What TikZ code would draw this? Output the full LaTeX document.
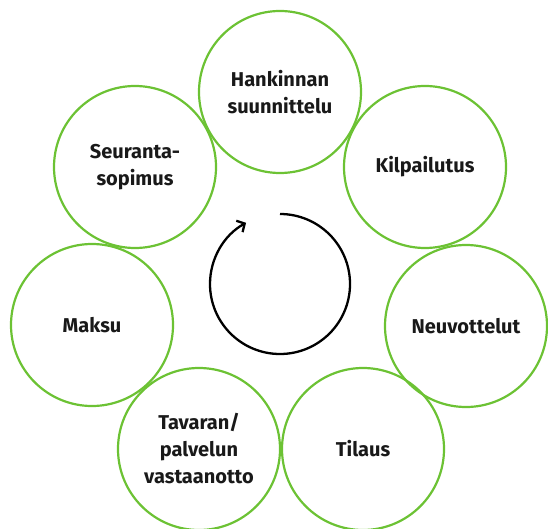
\documentclass[tikz,border=0pt]{standalone}
\usepackage{fontspec}
\setmainfont{Fira Sans}
\usetikzlibrary{arrows.meta}
\definecolor{phasegreen}{RGB}{108,194,52}
\tikzstyle{cyclearrow} = [line width=2.3pt,-{Straight Barb[length=6pt,width=13pt]}]

\begin{document}
\begin{tikzpicture}[x=1pt, y=-1pt, every node/.style={circle, draw=phasegreen, line width=2.2pt, minimum size=162pt, inner sep=0pt, align=center, text=black!90, font=\fontsize{20}{27}\selectfont\bfseries}]
        \useasboundingbox (0,0) rectangle (548,529);
        % Node positions
        \node (A) at (280,92) {Hankinnan\\suunnittelu};
        \node (B) at (425,167) {Kilpailutus};
        \node (C) at (466,326) {Neuvottelut};
        \node (D) at (363,449) {Tilaus};
        \node (E) at (199,449) {Tavaran/\\palvelun\\vastaanotto};
        \node (F) at (92,325) {Maksu};
        \node (G) at (135,167) {Seuranta-\\sopimus};

        % Cycle arrow
        \draw[cyclearrow] (280,214) arc[start angle=-90, end angle=241, radius=70];
      \end{tikzpicture}
\end{document}
